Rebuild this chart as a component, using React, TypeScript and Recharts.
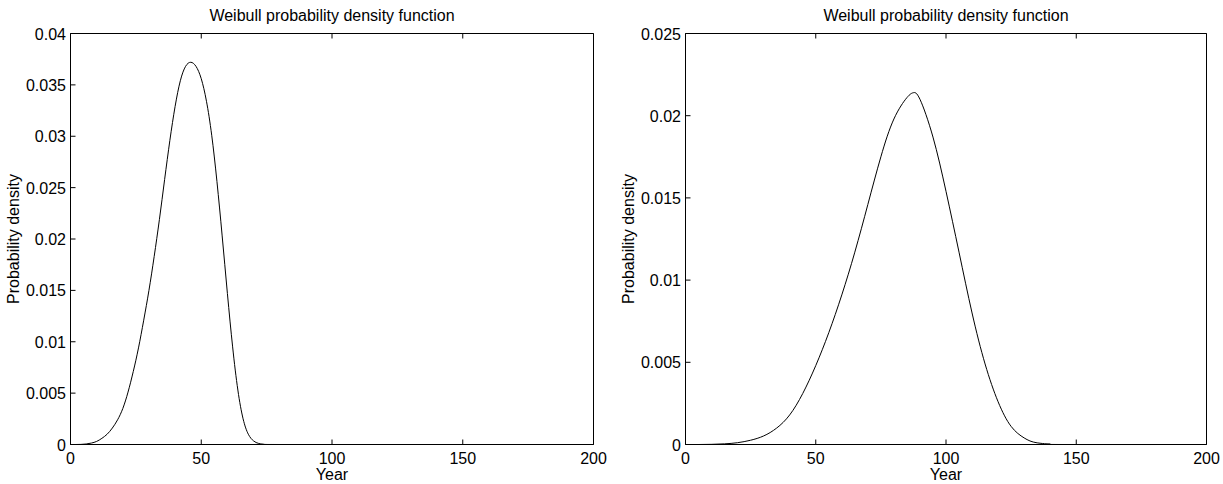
import React from 'react'
import { LineChart, Line, XAxis, YAxis } from 'recharts'

// tick values
const yearTicks = [0, 50, 100, 150, 200]
const leftDensityTicks = [0, 0.005, 0.01, 0.015, 0.02, 0.025, 0.03, 0.035, 0.04]
const rightDensityTicks = [0, 0.005, 0.01, 0.015, 0.02, 0.025]

// left panel curve
const leftYears = [
  0, 2, 4, 6, 8, 10, 12, 14, 16, 18, 20, 22, 24, 26, 28, 30, 32, 34, 36, 38, 40,
  42, 44, 46, 48, 50, 52, 54, 56, 58, 60, 62, 64, 66, 68, 70, 72, 74, 76, 78, 80, 200,
]
const leftDensity = [
  0, 0, 0.00001, 0.00005, 0.00014, 0.0003, 0.0006, 0.001, 0.0016, 0.0024, 0.0035,
  0.0051, 0.0071, 0.0094, 0.0121, 0.015, 0.0183, 0.0219, 0.0258, 0.0296, 0.0329,
  0.0354, 0.0368, 0.0372, 0.0368, 0.0356, 0.0334, 0.0301, 0.0256, 0.0203, 0.0147,
  0.0095, 0.0053, 0.0025, 0.001, 0.00035, 0.0001, 0.00002, 0, 0, 0, 0,
]

// right panel curve
const rightYears = [
  0, 5, 10, 15, 20, 25, 30, 35, 40, 45, 50, 55, 60, 65, 70, 75, 80, 85, 87.5, 90,
  95, 100, 105, 110, 115, 120, 125, 130, 135, 140, 145, 200,
]
const rightDensity = [
  0, 0, 0.00001, 0.00004, 0.00011, 0.00026, 0.00052, 0.001, 0.0018, 0.0031, 0.0048,
  0.0068, 0.0091, 0.0117, 0.0146, 0.0175, 0.0198, 0.0211, 0.0214, 0.021, 0.0187,
  0.0154, 0.0117, 0.008, 0.0049, 0.0026, 0.0011, 0.0004, 0.0001, 0.00002, 0, 0,
]

const FONT = '"Liberation Sans", Arial, Helvetica, sans-serif'
const TICK = 5
const H = 484

function BottomTick({ x, y, payload }: any) {
  return (
    <g>
      <line x1={x} x2={x} y1={y} y2={y - TICK} stroke="#000" />
      <text x={x} y={y + 19} textAnchor="middle" fontSize={16} fontFamily={FONT} fill="#000">
        {payload.value}
      </text>
    </g>
  )
}

function TopTick({ x, y }: any) {
  return <line x1={x} x2={x} y1={y} y2={y + TICK} stroke="#000" />
}

function LeftTick({ x, y, payload }: any) {
  return (
    <g>
      <line x1={x} x2={x + TICK} y1={y} y2={y} stroke="#000" />
      <text x={x - 4.5} y={y + 6} textAnchor="end" fontSize={16} fontFamily={FONT} fill="#000">
        {String(payload.value)}
      </text>
    </g>
  )
}

function RightTick({ x, y }: any) {
  return <line x1={x} x2={x - TICK} y1={y} y2={y} stroke="#000" />
}

interface PanelProps {
  left: number
  width: number
  margin: { top: number; right: number; bottom: number; left: number }
  years: number[]
  density: number[]
  yMax: number
  yTicks: number[]
}

function DensityPanel({ left, width, margin, years, density, yMax, yTicks }: PanelProps) {
  const data = years.map((year, i) => ({ year, density: density[i] }))
  const axisLine = { stroke: '#000', strokeWidth: 1 }
  // axes are 1px thick boxes (a 0 size axis is not drawn), margins take the rest
  const common = {
    tickSize: 0,
    tickMargin: 0,
    tickLine: false,
    axisLine,
    interval: 0 as const,
  }
  return (
    <div style={{ position: 'absolute', left, top: 0 }}>
      <LineChart width={width} height={H} data={data} margin={margin}>
        <XAxis
          xAxisId="b"
          dataKey="year"
          type="number"
          domain={[0, 200]}
          ticks={yearTicks}
          height={1}
          {...common}
          tick={(p: any) => <BottomTick {...p} />}
        />
        <XAxis
          xAxisId="t"
          orientation="top"
          dataKey="year"
          type="number"
          domain={[0, 200]}
          ticks={yearTicks}
          height={1}
          {...common}
          tick={(p: any) => <TopTick {...p} />}
        />
        <YAxis
          yAxisId="l"
          type="number"
          domain={[0, yMax]}
          ticks={yTicks}
          width={1}
          {...common}
          tick={(p: any) => <LeftTick {...p} />}
        />
        <YAxis
          yAxisId="r"
          orientation="right"
          type="number"
          domain={[0, yMax]}
          ticks={yTicks}
          width={1}
          {...common}
          tick={(p: any) => <RightTick {...p} />}
        />
        <Line
          xAxisId="b"
          yAxisId="l"
          dataKey="density"
          type="natural"
          stroke="#000"
          strokeWidth={1}
          dot={false}
          activeDot={false}
          isAnimationActive={false}
        />
      </LineChart>
    </div>
  )
}

export default function App() {
  const textStyle = { fontSize: 16, fontFamily: FONT, fill: '#000' }
  return (
    <div
      style={{
        position: 'absolute',
        left: 0,
        top: 0,
        width: 1223,
        height: H,
        background: '#fff',
        overflow: 'hidden',
      }}
    >
      <DensityPanel
        left={0}
        width={612}
        margin={{ top: 32.5, right: 17.5, bottom: 38.5, left: 69.5 }}
        years={leftYears}
        density={leftDensity}
        yMax={0.04}
        yTicks={leftDensityTicks}
      />
      <DensityPanel
        left={612}
        width={611}
        margin={{ top: 32.5, right: 15.5, bottom: 38.5, left: 72.5 }}
        years={rightYears}
        density={rightDensity}
        yMax={0.025}
        yTicks={rightDensityTicks}
      />
      <svg
        width={1223}
        height={H}
        style={{ position: 'absolute', left: 0, top: 0, pointerEvents: 'none' }}
      >
        <text x={332} y={21} textAnchor="middle" {...textStyle}>
          Weibull probability density function
        </text>
        <text x={946} y={21} textAnchor="middle" {...textStyle}>
          Weibull probability density function
        </text>
        <text x={332} y={480} textAnchor="middle" {...textStyle}>
          Year
        </text>
        <text x={946} y={480} textAnchor="middle" {...textStyle}>
          Year
        </text>
        <text x={19} y={239} textAnchor="middle" transform="rotate(-90 19 239)" {...textStyle}>
          Probability density
        </text>
        <text x={634} y={239} textAnchor="middle" transform="rotate(-90 634 239)" {...textStyle}>
          Probability density
        </text>
      </svg>
    </div>
  )
}
